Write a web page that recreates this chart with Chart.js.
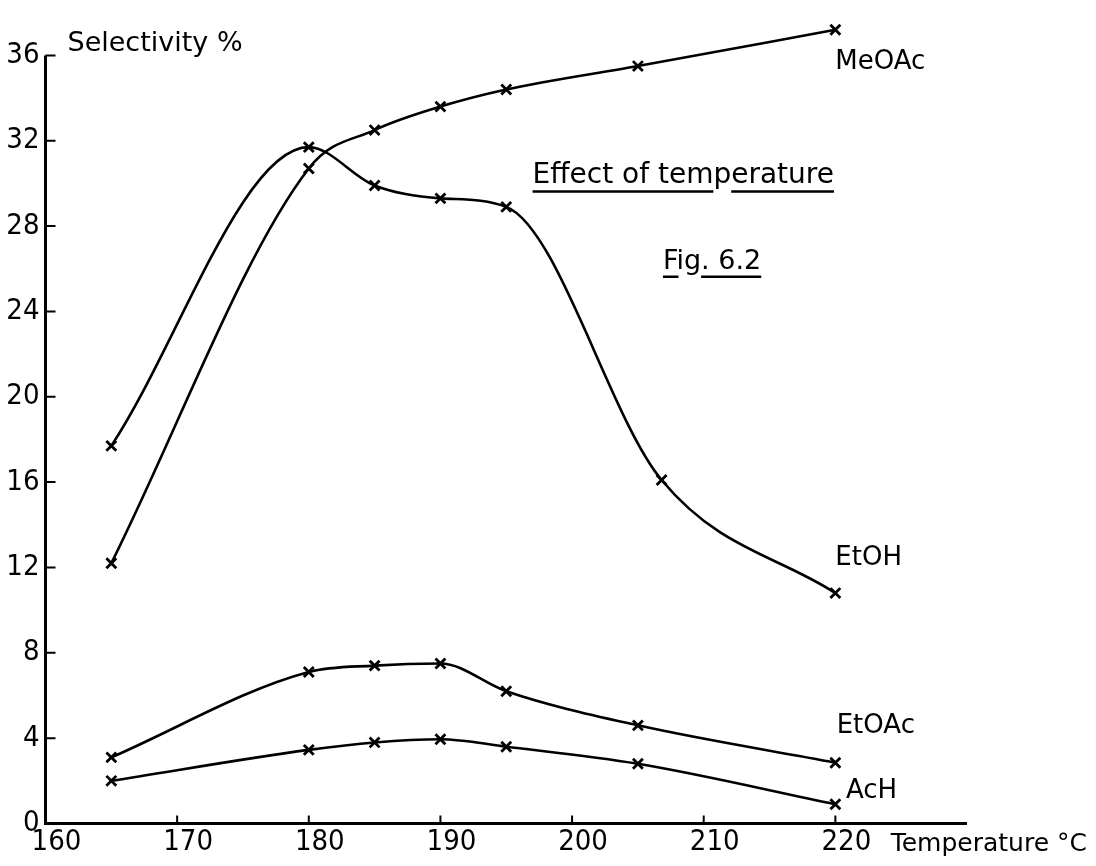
<!DOCTYPE html>
<html>
<head>
<meta charset="utf-8">
<script src="https://cdn.jsdelivr.net/npm/chart.js@4"></script>
<style>
    html, body { margin: 0; padding: 0; background: #fff; }
    #wrap { width: 1096px; height: 866px; position: relative; }
</style>
</head>
<body>
<div id="wrap"><canvas id="temp-chart"></canvas></div>
<script>
// Selectivity vs temperature (Fig. 6.2)
const xTicks = [160, 170, 180, 190, 200, 210, 220];
const yTicks = [0, 4, 8, 12, 16, 20, 24, 28, 32, 36];
const X_AXIS_END = 230;

const tempMeOAc = [165, 180, 185, 190, 195, 205, 220];
const selMeOAc  = [12.2, 30.7, 32.5, 33.6, 34.4, 35.5, 37.2];

const tempEtOH  = [165, 180, 185, 190, 195, 206.8, 220];
const selEtOH   = [17.7, 31.7, 29.9, 29.3, 28.9, 16.1, 10.8];

const tempEtOAc = [165, 180, 185, 190, 195, 205, 220];
const selEtOAc  = [3.1, 7.1, 7.4, 7.5, 6.2, 4.6, 2.85];

const tempAcH   = [165, 180, 185, 190, 195, 205, 220];
const selAcH    = [2.0, 3.45, 3.8, 3.95, 3.6, 2.8, 0.9];

const FONT = '"DejaVu Sans", "Liberation Sans", sans-serif';
const TICK_FONT = '"DejaVu Sans Condensed", "DejaVu Sans", sans-serif';

function toPoints(xs, ys) {
    return xs.map((t, i) => ({ x: t, y: ys[i] }));
}

function lineDataset(label, xs, ys) {
    return {
        label: label,
        data: toPoints(xs, ys),
        borderColor: '#000',
        borderWidth: 2.6,
        fill: false,
        cubicInterpolationMode: 'monotone',
        pointStyle: 'crossRot',
        pointRadius: 7,
        pointBorderWidth: 2.8,
        pointBorderColor: '#000',
        pointBackgroundColor: '#000',
        clip: false
    };
}

// axes drawn by hand: y only up to 36, ticks pointing inward
const handAxes = {
    id: 'handAxes',
    beforeDatasetsDraw(chart) {
        const { ctx, scales: { x, y } } = chart;
        const x0 = x.getPixelForValue(xTicks[0]);
        const y0 = y.getPixelForValue(0);
        ctx.save();
        ctx.strokeStyle = '#000';
        ctx.lineWidth = 3;
        ctx.beginPath();
        ctx.moveTo(x0, y.getPixelForValue(yTicks[yTicks.length - 1]));
        ctx.lineTo(x0, y0);
        ctx.lineTo(x.getPixelForValue(X_AXIS_END), y0);
        ctx.stroke();

        ctx.lineWidth = 2;
        ctx.beginPath();
        yTicks.forEach(v => {
            if (v === 0) return;
            const py = y.getPixelForValue(v);
            ctx.moveTo(x0, py);
            ctx.lineTo(x0 + 10, py);
        });
        xTicks.forEach(t => {
            if (t === xTicks[0]) return;
            const px = x.getPixelForValue(t);
            ctx.moveTo(px, y0);
            ctx.lineTo(px, y0 - 8);
        });
        ctx.stroke();
        ctx.restore();
    }
};

// series names, title, axis titles
const annotations = {
    id: 'annotations',
    afterDraw(chart) {
        const { ctx, scales: { x, y } } = chart;
        ctx.save();
        ctx.fillStyle = '#000';
        ctx.strokeStyle = '#000';

        ctx.font = '26px ' + FONT;
        ctx.textAlign = 'left';
        ctx.textBaseline = 'middle';
        [
            ['MeOAc', 220, 35.7],
            ['EtOH', 220, 12.45],
            ['EtOAc', 220.1, 4.55],
            ['AcH', 220.8, 1.5]
        ].forEach(([txt, t, v]) => {
            ctx.fillText(txt, x.getPixelForValue(t), y.getPixelForValue(v));
        });

        // title with broken underline
        ctx.font = '28px ' + FONT;
        ctx.textBaseline = 'alphabetic';
        const title = 'Effect of temperature';
        const tx = x.getPixelForValue(197.0);
        const ty = y.getPixelForValue(30.0);
        ctx.fillText(title, tx, ty);
        ctx.lineWidth = 2.5;
        ctx.beginPath();
        ctx.moveTo(tx, ty + 8);
        ctx.lineTo(tx + ctx.measureText('Effect of tem').width, ty + 8);
        ctx.moveTo(tx + ctx.measureText('Effect of temp').width, ty + 8);
        ctx.lineTo(tx + ctx.measureText(title).width, ty + 8);
        ctx.stroke();

        ctx.font = '27px ' + FONT;
        const fig = 'Fig. 6.2';
        const fx = x.getPixelForValue(206.9);
        const fy = y.getPixelForValue(26.0);
        ctx.fillText(fig, fx, fy);
        ctx.beginPath();
        ctx.moveTo(fx, fy + 8);
        ctx.lineTo(fx + ctx.measureText('F').width, fy + 8);
        ctx.moveTo(fx + ctx.measureText('Fig').width, fy + 8);
        ctx.lineTo(fx + ctx.measureText(fig).width, fy + 8);
        ctx.stroke();

        // axis titles
        ctx.font = '27px ' + FONT;
        ctx.fillText('Selectivity %', x.getPixelForValue(160) + 22, y.getPixelForValue(36) - 4);
        ctx.font = '25px ' + FONT;
        ctx.fillText('Temperature °C', x.getPixelForValue(224.2), y.getPixelForValue(0) + 27);
        ctx.restore();
    }
};

const canvas = document.getElementById('temp-chart');

new Chart(canvas, {
    type: 'line',
    data: {
        datasets: [
            lineDataset('MeOAc', tempMeOAc, selMeOAc),
            lineDataset('EtOH', tempEtOH, selEtOH),
            lineDataset('EtOAc', tempEtOAc, selEtOAc),
            lineDataset('AcH', tempAcH, selAcH)
        ]
    },
    options: {
        responsive: true,
        maintainAspectRatio: false,
        animation: false,
        layout: {
            padding: { top: 4, right: 129, left: 0, bottom: 0 }
        },
        plugins: {
            legend: { display: false },
            tooltip: { enabled: false }
        },
        scales: {
            x: {
                type: 'linear',
                min: 160,
                max: X_AXIS_END,
                afterBuildTicks: (scale) => {
                    scale.ticks = xTicks.map(v => ({ value: v }));
                },
                afterFit: (scale) => {
                    scale.height = 42.5;
                },
                grid: { display: false, drawTicks: false },
                border: { display: false },
                ticks: {
                    color: '#000',
                    font: { family: TICK_FONT, size: 29 },
                    padding: 2,
                    labelOffset: 11,
                    maxRotation: 0,
                    autoSkip: false
                }
            },
            y: {
                min: 0,
                max: 37.5,
                afterBuildTicks: (scale) => {
                    scale.ticks = yTicks.map(v => ({ value: v }));
                },
                afterFit: (scale) => {
                    scale.width = 45.5;
                },
                grid: { display: false, drawTicks: false },
                border: { display: false },
                ticks: {
                    color: '#000',
                    font: { family: TICK_FONT, size: 29 },
                    padding: 6
                }
            }
        }
    },
    plugins: [handAxes, annotations]
});
</script>
</body>
</html>
